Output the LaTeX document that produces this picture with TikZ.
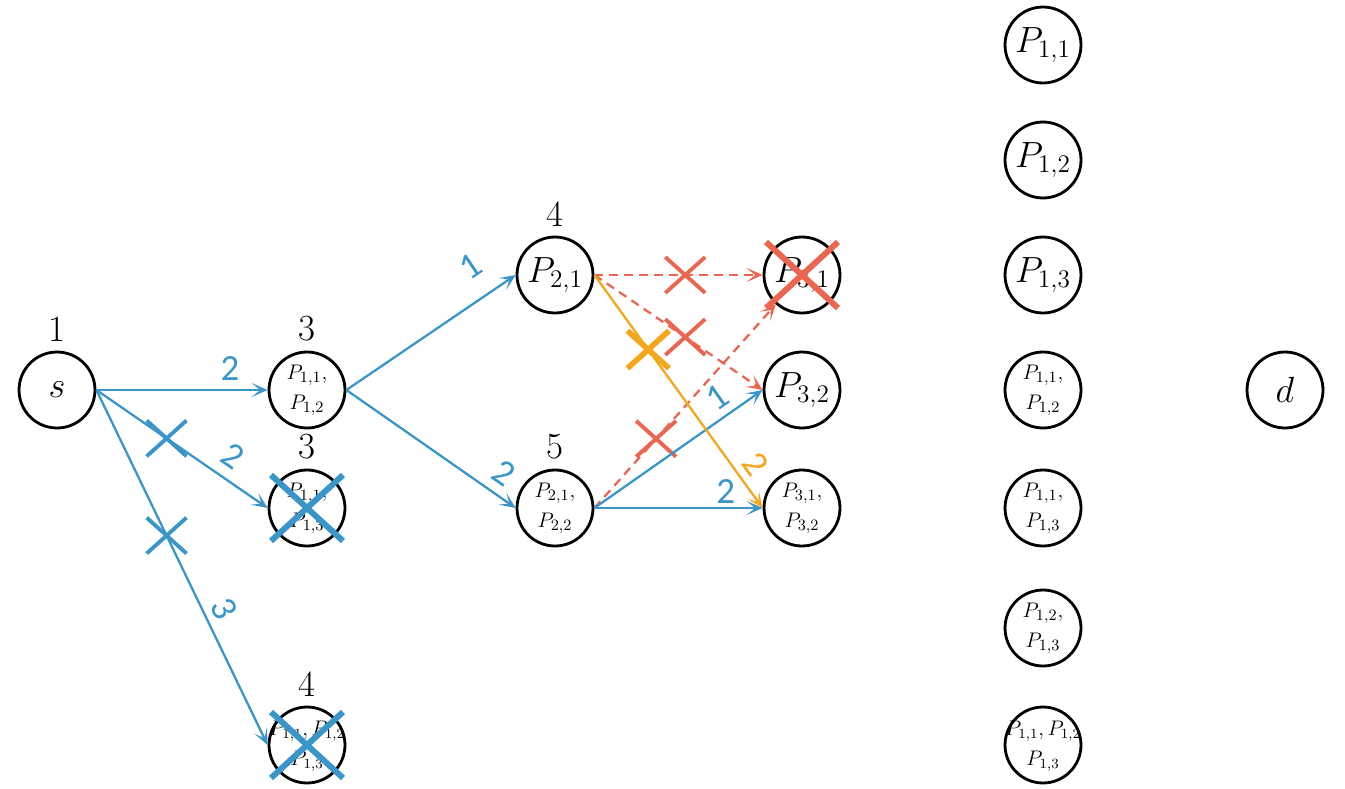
\documentclass[tikz,border=0pt]{standalone}
\usepackage{fontspec}
\newfontfamily\lblfont{Carlito}
\usetikzlibrary{arrows.meta, shapes.misc}
\definecolor{linkblue}{HTML}{3A96C9}
\definecolor{cutred}{HTML}{EB6651}
\definecolor{pathamber}{HTML}{F5A71B}
\newcommand{\pcell}[1]{\makebox[0pt]{\smash{\raisebox{-0.25em}{\begin{tabular}{@{}c@{}}#1\end{tabular}}}}}
\tikzset{
  state/.style={circle, draw=black, line width=1.6pt, minimum size=1.52cm, inner sep=0pt,
    align=center, font=\fontsize{21}{24}\selectfont},
  stateS/.style={state, font=\fontsize{13}{17}\selectfont},
  stateT/.style={circle, draw=black, line width=1.6pt, minimum size=1.52cm, inner sep=0pt,
    font=\fontsize{11.5}{17}\selectfont},
  cost/.style={font=\fontsize{21}{24}\selectfont, inner sep=2pt},
  arrow/.style={-{Stealth[length=3.2mm, width=2.8mm, inset=1.7mm]}, line width=1.3pt, linkblue},
  arrowd/.style={arrow, cutred, dash pattern=on 5pt off 3.5pt},
  arrowo/.style={arrow, pathamber},
  wlbl/.style={font=\lblfont\fontsize{21}{24}\selectfont, text=linkblue, inner sep=2pt},
  xcut/.style={cross out, draw, solid, line width=2.2pt, minimum width=0.72cm, minimum height=0.64cm, inner sep=0pt},
  xcutbig/.style={xcut, line width=3.4pt, minimum width=1.32cm, minimum height=1.2cm},
}

\begin{document}
\begin{tikzpicture}[x=0.02cm, y=-0.02cm, label distance=3pt]
\useasboundingbox (0,0) rectangle (1345,788);
\node[state, label={[cost]above:1}] (s) at (57,390) {$s$};
\node[stateS, label={[cost]above:3}] (a12) at (307,390) {$P_{1,1},$\\$P_{1,2}$};
\node[stateS, label={[cost]above:3}] (a13) at (307,508) {$P_{1,1},$\\$P_{1,3}$};
\node[stateT, label={[cost]above:4}] (a123) at (307,745) {\pcell{$P_{1,1},P_{1,2}$\\$P_{1,3}$}};
\node[state, label={[cost]above:4}] (p21) at (555,275) {$P_{2,1}$};
\node[stateS, label={[cost]above:5}] (p2122) at (555,508) {$P_{2,1},$\\$P_{2,2}$};
\node[state] (p31) at (802,275) {$P_{3,1}$};
\node[state] (p32) at (802,390) {$P_{3,2}$};
\node[stateS] (p3132) at (802,508) {$P_{3,1},$\\$P_{3,2}$};
\foreach \k/\y in {1/45, 2/160, 3/275}
  \node[state] (r1\k) at (1043,\y) {$P_{1,\k}$};
\node[stateS] (r1112) at (1043,390) {$P_{1,1},$\\$P_{1,2}$};
\node[stateS] (r1113) at (1043,508) {$P_{1,1},$\\$P_{1,3}$};
\node[stateS] (r1213) at (1043,628) {$P_{1,2},$\\$P_{1,3}$};
\node[stateT] (r111213) at (1043,745) {\pcell{$P_{1,1},P_{1,2}$\\$P_{1,3}$}};
\node[state] (d) at (1285,390) {$d$};

\draw[arrow] (s.east) -- node[pos=0.78, above=3pt, wlbl]{2} (a12.west);
\draw[arrow] (s.east) -- node[pos=0.41, xcut, draw=linkblue] (xsb) {}
  node[pos=0.72, sloped, above=4pt, wlbl]{2} (a13.west);
\draw[arrow] (s.east) -- node[pos=0.41, xcut, draw=linkblue] (xsc) {}
  node[pos=0.64, sloped, above=2pt, wlbl]{3} (a123.west);
\draw[arrow] (a12.east) -- node[pos=0.84, sloped, above=9pt, wlbl]{1} (p21.west);
\draw[arrow] (a12.east) -- node[pos=0.86, sloped, above=3pt, wlbl]{2} (p2122.west);
\draw[arrowd] (p21.east) -- node[pos=0.54, xcut, draw=cutred] (xdf) {} (p31.west);
\draw[arrowd] (p21.east) -- node[pos=0.54, xcut, draw=cutred] (xdg) {} (p32.west);
\draw[arrowd] (p2122.east) -- node[pos=0.34, xcut, draw=cutred] (xef) {} (p31);
\draw[arrow] (p2122.east) -- node[pos=0.8, sloped, above=2pt, wlbl]{1} (p32.west);
\draw[arrow] (p2122.east) -- node[pos=0.78, above=0pt, wlbl]{2} (p3132.west);
\draw[arrowo] (p21.east) -- node[pos=0.32, xcut, draw=pathamber, line width=3.2pt] (xdh) {}
  node[pos=0.86, sloped, above=2pt, wlbl, text=pathamber]{2} (p3132.west);

\node[xcutbig, draw=linkblue] (xa13) at (a13) {};
\node[xcutbig, draw=linkblue] (xa123) at (a123) {};
\node[xcutbig, draw=cutred] (xp31) at (p31) {};
\end{tikzpicture}
\end{document}
